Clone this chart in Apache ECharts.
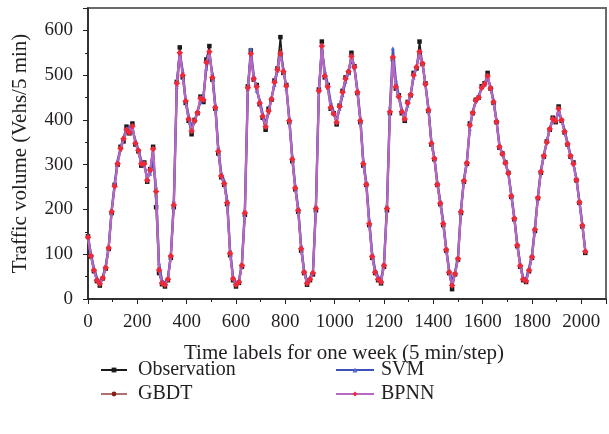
<!DOCTYPE html>
<html><head><meta charset="utf-8">
<script src="https://cdn.jsdelivr.net/npm/echarts@6/dist/echarts.min.js"></script>
<style>html,body{margin:0;padding:0;background:#fff}#c{width:609px;height:434px}</style>
</head><body><div id="c"></div>
<script>
// time step between stored samples (5-min steps)
const stepLabel = 12;
const xTicks = [0,200,400,600,800,1000,1200,1400,1600,1800,2000];
const yTicks = [0,100,200,300,400,500,600];
const seriesNames = ['Observation','GBDT','SVM','BPNN'];

const observation = [140,95,62,40,30,46,68,112,192,255,300,340,352,385,370,392,345,330,298,305,262,290,340,205,58,33,28,42,92,205,485,562,495,438,398,368,400,415,452,440,535,565,490,425,325,272,255,212,98,42,28,36,72,188,475,555,490,478,435,405,378,425,445,488,515,585,505,478,395,308,245,195,108,58,32,42,55,198,468,575,495,478,425,415,390,432,465,495,505,550,520,460,395,298,255,165,92,58,42,35,72,198,415,535,470,455,415,398,440,455,505,515,575,525,482,420,345,312,255,212,165,108,58,22,55,88,192,262,302,392,415,445,450,475,482,505,470,438,395,338,325,305,282,228,178,118,72,42,38,62,92,152,225,282,318,352,378,405,395,430,398,372,345,318,305,265,215,162,103];
const gbdt = [135,98,66,45,36,48,72,115,198,250,305,332,356,372,375,380,352,328,305,298,270,285,320,230,70,38,34,45,98,215,470,545,505,440,405,380,395,418,445,450,520,548,500,430,335,278,260,218,105,48,34,40,78,195,465,540,495,470,440,410,390,415,448,480,515,555,510,475,400,315,250,200,115,62,38,45,60,205,460,555,500,470,430,412,398,428,460,490,510,540,515,465,400,305,258,172,98,62,46,40,78,205,420,525,478,450,420,405,435,458,498,520,550,525,478,425,350,315,258,215,170,112,62,35,58,92,198,265,305,385,418,440,452,470,480,495,472,440,398,342,322,302,280,232,182,122,76,46,42,66,96,158,228,285,320,350,380,398,400,418,400,375,348,320,300,268,218,165,108];
const svm = [142,100,70,48,38,50,75,118,200,258,310,338,362,380,385,378,355,335,310,300,272,280,310,250,80,42,36,48,100,220,478,552,510,445,410,385,398,420,440,455,515,545,505,435,340,282,265,222,110,50,36,42,80,200,470,558,500,465,445,415,392,420,450,478,510,550,515,470,405,320,255,205,120,65,40,48,62,210,465,560,510,480,440,418,400,425,455,485,505,535,518,468,405,310,262,178,102,66,50,44,80,210,430,560,490,455,425,408,432,455,495,518,548,528,480,428,352,318,262,220,175,115,66,40,60,95,200,268,308,380,420,442,455,472,478,492,475,445,400,345,325,305,282,235,185,125,80,48,45,70,100,160,230,288,322,352,382,400,402,415,402,378,350,322,302,270,220,168,110];
const bpnn = [138,96,64,42,34,47,70,114,195,252,302,336,358,378,372,386,348,332,302,302,265,288,335,240,65,36,32,44,96,210,482,550,500,442,402,375,398,416,448,445,528,552,495,428,330,275,258,215,102,45,32,38,75,192,472,548,492,474,438,408,385,420,446,484,512,548,508,476,398,312,248,198,112,60,35,44,58,202,465,565,498,474,428,414,395,430,462,492,508,542,518,462,398,302,256,168,95,60,44,38,75,202,418,540,474,452,418,402,438,456,500,518,552,526,480,422,348,314,256,214,168,110,60,30,56,90,195,264,304,388,416,444,450,472,480,498,471,440,396,340,324,304,281,230,180,120,74,44,40,64,94,155,226,284,320,350,380,402,398,425,400,374,346,320,302,266,216,164,106];

function pairs(arr){ return arr.map((v,i)=>[i*stepLabel, v]); }

const FONT = '"Liberation Serif","DejaVu Serif",serif';
const TXT = '#231f20';

const chart = echarts.init(document.getElementById('c'));
chart.setOption({
  animation:false,
  backgroundColor:'#fff',
  grid:{left:88, top:8, width:524, height:291, show:true, borderColor:'#6a6a6a', borderWidth:2, backgroundColor:'transparent'},
  xAxis:{
    type:'value', min:0, max:2100, interval:200,
    name:'Time labels for one week (5 min/step)', nameLocation:'middle', nameGap:44,
    nameTextStyle:{fontFamily:FONT, fontSize:21, color:TXT, padding:[0,0,0,-6]},
    axisLine:{show:true, lineStyle:{color:'#222', width:1.5}},
    axisTick:{show:true, length:5, lineStyle:{color:'#222'}},
    minorTick:{show:true, splitNumber:2, length:3, lineStyle:{color:'#222'}},
    splitLine:{show:false},
    axisLabel:{fontFamily:FONT, fontSize:19, color:TXT, margin:14,
      formatter:v=> xTicks.includes(v)? String(v):''}
  },
  yAxis:{
    type:'value', min:0, max:650, interval:100,
    name:'Traffic volume (Vehs/5 min)', nameLocation:'middle', nameGap:57,
    nameTextStyle:{fontFamily:FONT, fontSize:21, color:TXT},
    axisLine:{show:true, lineStyle:{color:'#222', width:1.5}},
    axisTick:{show:true, length:5, lineStyle:{color:'#222'}},
    minorTick:{show:true, splitNumber:2, length:3, lineStyle:{color:'#222'}},
    splitLine:{show:false},
    axisLabel:{fontFamily:FONT, fontSize:19, color:TXT, margin:15,
      formatter:v=> yTicks.includes(v)? String(v):''}
  },
  legend:[
    {data:[seriesNames[0], seriesNames[1]], orient:'vertical', left:95, top:355, itemGap:4, itemWidth:26, itemHeight:6,
     textStyle:{fontFamily:FONT, fontSize:20, color:TXT, padding:[0,0,0,6]}},
    {data:[seriesNames[2], seriesNames[3]], orient:'vertical', left:330, top:355, itemGap:4, itemWidth:38, itemHeight:6,
     textStyle:{fontFamily:FONT, fontSize:20, color:TXT, padding:[0,0,0,2]}}
  ],
  series:[
    {name:seriesNames[0], type:'line', data:pairs(observation), symbol:'rect', symbolSize:4.5, showSymbol:true, showAllSymbol:true,
     lineStyle:{color:'#1a1a1a', width:1.6}, itemStyle:{color:'#1a1a1a'}, z:1},
    {name:seriesNames[1], type:'line', data:pairs(gbdt), symbol:'circle', symbolSize:3, showAllSymbol:true,
     lineStyle:{color:'#b07070', width:2.4}, itemStyle:{color:'#8b1c1c'}, z:2},
    {name:seriesNames[2], type:'line', data:pairs(svm), symbol:'triangle', symbolSize:4, showAllSymbol:true,
     lineStyle:{color:'#3d52b8', width:2.2}, itemStyle:{color:'#5568d8'}, z:3},
    {name:seriesNames[3], type:'line', data:pairs(bpnn), symbol:'diamond', symbolSize:6.5, showAllSymbol:true,
     lineStyle:{color:'#b868c4', width:2.2}, itemStyle:{color:'#ee2a3a'}, z:4}
  ]
});
</script></body></html>
